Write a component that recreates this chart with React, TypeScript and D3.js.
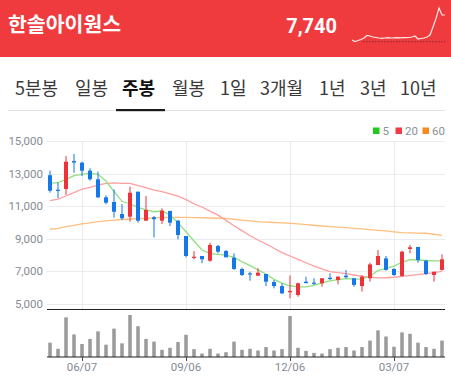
import React, { useLayoutEffect } from 'react';
import * as d3 from 'd3';

const W = 451;
const H = 376;

// ---- data ----
const title = '한솔아이원스';
const lastPrice = '7,740';
const tabs = ['5분봉', '일봉', '주봉', '월봉', '1일', '3개월', '1년', '3년', '10년'];
const activeTab = '주봉';

const opens = [12900, 12010, 12055, 13770, 13670, 13180, 12650, 11545, 11260, 10520, 10356, 11890, 10110, 10320, 10110, 10705, 10110, 9170, 7840, 7945, 7655, 8560, 8250, 7840, 7150, 6880, 6735, 6840, 6350, 6100, 5720, 5550, 6370, 6310, 6270, 6610, 6470, 6740, 6580, 6100, 6580, 7390, 7800, 7150, 6720, 8375, 8500, 7655, 6780, 7090];
const highs = [13180, 12450, 14080, 14200, 13730, 13330, 13120, 11670, 12040, 11130, 12200, 11890, 11625, 10400, 10870, 10720, 10150, 9170, 8250, 7945, 8760, 8620, 8310, 8110, 7230, 6980, 7190, 6840, 6470, 6270, 6750, 6310, 6675, 6580, 6580, 6880, 6720, 7090, 6580, 6780, 7530, 8310, 7945, 7190, 8270, 8620, 8500, 7700, 6980, 8050];
const lows = [11830, 11500, 11690, 13055, 12850, 12570, 11500, 11120, 10300, 10150, 10050, 9990, 10110, 9090, 9910, 9785, 8970, 7865, 7745, 7500, 7595, 8110, 7865, 7090, 6720, 6430, 6735, 6100, 5960, 5610, 5350, 5450, 6270, 6170, 6060, 6470, 6210, 6580, 6060, 5760, 6370, 7390, 7045, 6720, 6680, 8110, 7530, 6780, 6370, 7045];
const closes = [11950, 11950, 13730, 13680, 13180, 12650, 11545, 11215, 10660, 10260, 11828, 10110, 10767, 10200, 10725, 9990, 9230, 7945, 7900, 7745, 8620, 8210, 7865, 7150, 6780, 6820, 6920, 6370, 6100, 5655, 5800, 6270, 6280, 6250, 6580, 6530, 6675, 6640, 6170, 6675, 7430, 7945, 7090, 6780, 8210, 8480, 7700, 6840, 6980, 7740];
const volumes = [42, 24, 116, 66, 38, 53, 75, 36, 83, 40, 123, 90, 53, 45, 21, 27, 44, 65, 23, 10, 24, 10, 14, 45, 21, 24, 19, 29, 19, 23, 120, 27, 18, 12, 10, 23, 27, 29, 19, 29, 48, 78, 60, 30, 72, 68, 42, 29, 24, 48];
const ma5 = [12405, 12440, 12650, 12870, 12955, 13015, 12955, 12545, 11900, 11300, 11135, 10930, 10770, 10660, 10705, 10460, 9990, 9435, 8865, 8310, 8110, 8050, 8005, 7860, 7595, 7350, 7090, 6840, 6510, 6285, 6120, 6050, 6045, 6140, 6300, 6420, 6500, 6560, 6530, 6530, 6700, 7050, 7180, 7330, 7560, 7720, 7700, 7670, 7650, 7640];
const ma20 = [11340, 11440, 11625, 11830, 12055, 12160, 12300, 12405, 12425, 12405, 12405, 12260, 12135, 11990, 11890, 11750, 11625, 11400, 11150, 10950, 10700, 10450, 10130, 9800, 9500, 9190, 8925, 8680, 8420, 8150, 7945, 7740, 7530, 7330, 7150, 6990, 6920, 6870, 6780, 6700, 6640, 6600, 6610, 6640, 6700, 6760, 6800, 6860, 6920, 7000];
const ma60 = [9585, 9640, 9745, 9830, 9910, 9980, 10050, 10100, 10150, 10185, 10215, 10235, 10255, 10280, 10310, 10320, 10320, 10315, 10300, 10290, 10275, 10260, 10255, 10200, 10150, 10100, 10050, 10020, 10000, 9975, 9950, 9910, 9870, 9830, 9785, 9750, 9715, 9680, 9645, 9605, 9560, 9520, 9480, 9430, 9375, 9360, 9350, 9340, 9280, 9215];

const yTicks = [5000, 7000, 9000, 11000, 13000, 15000];
const xTickIdx = [4, 17, 30, 43];
const xTickLabels = ['06/07', '09/06', '12/06', '03/07'];
const legendLabels = ['5', '20', '60'];

// sparkline in header (relative level values)
const sparkValues = [5, 3.5, 4.5, 5.5, 7, 9.5, 9, 8, 7.5, 7, 6.7, 7, 7.3, 7, 7.2, 7.3, 7.2, 7.3, 7.4, 7.5, 8, 9, 6, 6.5, 7, 8, 10, 18, 26.5, 37, 30, 30];
const sparkBase = 3.3;

// ---- style / layout ----
const RED = '#ef3a3e';
const UP = '#ee3239';
const DOWN = '#1677e8';
const VOL = '#9a9a9a';
const MA_COLORS = ['#8fe07f', '#ff9ea0', '#ffbf80'];
const LEGEND_COLORS = ['#1ec81e', '#f23a46', '#f78a1e'];
const tabX = [15, 75, 122, 172, 220, 260, 319, 360, 400];
const FONT_KR = '"Noto Sans CJK KR", "Noto Sans", sans-serif';
const FONT_NUM = 'Roboto, "Noto Sans", sans-serif';

export default function App() {
  useLayoutEffect(() => {
    document.body.style.margin = '0';
  }, []);

  const n = closes.length;
  const x = d3.scaleBand<number>().domain(d3.range(n)).range([46, 446]).padding(0);
  const cx = (i: number) => (x(i) as number) + x.bandwidth() / 2;
  const y = d3.scaleLinear().domain([5000, 15000]).range([304, 141]);
  const yv = d3.scaleLinear().domain([0, 139]).range([357, 309.5]);

  const line = d3
    .line<number>()
    .x((_, i) => cx(i))
    .y((d) => y(d))
    .curve(d3.curveLinear);

  const sx = d3.scaleLinear().domain([0, sparkValues.length - 1]).range([352, 445]);
  const sy = d3.scaleLinear().domain([0, 45]).range([45, 0]);
  const sparkLine = d3
    .line<number>()
    .x((_, i) => sx(i))
    .y((d) => sy(d));

  const bodyW = 4;

  return (
    <svg width={W} height={H} style={{ position: 'absolute', left: 0, top: 0, background: '#fff' }}>
      {/* header */}
      <rect x={0} y={0} width={W} height={57} fill={RED} />
      <text x={8} y={31.5} fill="#fff" fontFamily={FONT_KR} fontWeight={700} fontSize={20.5}>
        {title}
      </text>
      <text x={337} y={33} fill="#fff" fontFamily={FONT_NUM} fontWeight={700} fontSize={20} textAnchor="end">
        {lastPrice}
      </text>
      <line x1={363} x2={445} y1={sy(sparkBase)} y2={sy(sparkBase)} stroke="#7a2a2a" strokeWidth={0.9} strokeDasharray="1.5,1.5" />
      <path d={sparkLine(sparkValues) || ''} fill="none" stroke="#fde8e8" strokeWidth={1.2} />

      {/* tabs */}
      {tabs.map((t, i) => (
        <text
          key={t}
          x={tabX[i]}
          y={95}
          fontFamily={FONT_KR}
          fontSize={18}
          fontWeight={t === activeTab ? 700 : 400}
          fill={t === activeTab ? '#111' : '#3a3a3a'}
        >
          {t}
        </text>
      ))}
      <line x1={8} x2={445} y1={110.5} y2={110.5} stroke="#e2e2e2" strokeWidth={1} />
      <rect x={116} y={109} width={49} height={2.2} fill="#1b1b1b" />

      {/* legend */}
      {legendLabels.map((l, i) => {
        const lx = [373, 395.5, 422.5][i];
        return (
          <g key={l}>
            <rect x={lx} y={127.5} width={6.5} height={6.5} fill={LEGEND_COLORS[i]} />
            <text x={lx + 9.5} y={134.5} fontFamily={FONT_NUM} fontSize={11.5} fill="#8a8f98">
              {l}
            </text>
          </g>
        );
      })}

      {/* grid */}
      {yTicks.map((t) => (
        <g key={t}>
          <line x1={47} x2={445} y1={Math.round(y(t)) + 0.5} y2={Math.round(y(t)) + 0.5} stroke="#e9ebee" strokeWidth={1} />
          <text
            x={43}
            y={y(t)}
            dy="0.35em"
            textAnchor="end"
            fontFamily={FONT_NUM}
            fontSize={11.5}
            fill="#868c96"
          >
            {d3.format(',')(t)}
          </text>
        </g>
      ))}
      {xTickIdx.map((i) => (
        <line key={i} x1={cx(i) + 0.5} x2={cx(i) + 0.5} y1={141} y2={309} stroke="#e9ebee" strokeWidth={1} />
      ))}

      {/* moving averages */}
      <path d={line(ma60) || ''} fill="none" stroke={MA_COLORS[2]} strokeWidth={1.3} />
      <path d={line(ma20) || ''} fill="none" stroke={MA_COLORS[1]} strokeWidth={1.3} />
      <path d={line(ma5) || ''} fill="none" stroke={MA_COLORS[0]} strokeWidth={1.3} />

      {/* candles */}
      {closes.map((c, i) => {
        const o = opens[i];
        const up = c >= o;
        const col = up ? UP : DOWN;
        const top = y(Math.max(o, c));
        const bot = y(Math.min(o, c));
        const xc = cx(i);
        return (
          <g key={i}>
            <rect x={xc - 0.5} y={y(highs[i])} width={1} height={Math.max(0.5, y(lows[i]) - y(highs[i]))} fill={col} />
            <rect x={xc - bodyW / 2} y={top} width={bodyW} height={Math.max(1.2, bot - top)} fill={col} />
          </g>
        );
      })}

      {/* volume */}
      <line x1={47} x2={445} y1={309.5} y2={309.5} stroke="#222" strokeWidth={1} />
      {volumes.map((v, i) => (
        <rect key={i} x={cx(i) - 1.75} y={yv(v)} width={3.5} height={yv(0) - yv(v)} fill={VOL} />
      ))}
      <line x1={47} x2={445} y1={357} y2={357} stroke="#222" strokeWidth={1} />
      {xTickIdx.map((i, k) => (
        <g key={i}>
          <line x1={cx(i) + 0.5} x2={cx(i) + 0.5} y1={357} y2={361} stroke="#444" strokeWidth={1} />
          <text x={cx(i)} y={371} textAnchor="middle" fontFamily={FONT_NUM} fontSize={11.5} fill="#868c96">
            {xTickLabels[k]}
          </text>
        </g>
      ))}
    </svg>
  );
}
